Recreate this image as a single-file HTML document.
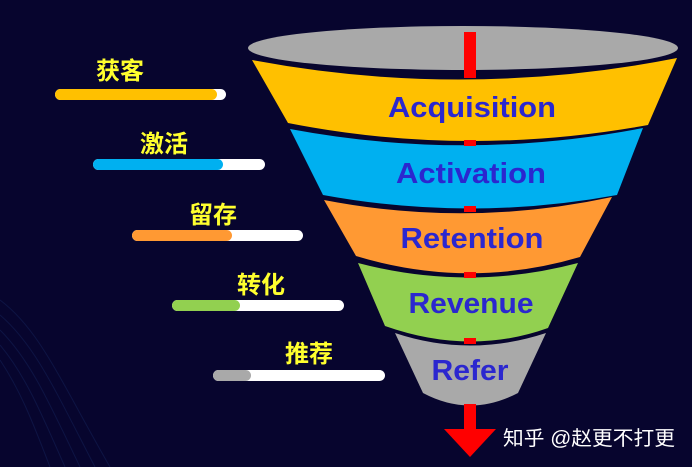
<!DOCTYPE html>
<html><head><meta charset="utf-8"><style>
html,body{margin:0;padding:0;background:#07052e;}
svg{display:block;}
.en{font-family:"Liberation Sans","DejaVu Sans",sans-serif;font-weight:bold;fill:#2b27cf;text-anchor:middle;}
.cn{font-family:"Liberation Sans","Noto Sans CJK SC",sans-serif;font-weight:bold;fill:#ffff2e;font-size:24px;}
</style></head><body>
<svg width="692" height="467" viewBox="0 0 692 467" xmlns="http://www.w3.org/2000/svg">
<rect width="692" height="467" fill="#07052e"/>
<g fill="none" stroke="#15245a" stroke-width="1" opacity="0.5">
<path d="M0 300 C40 330 60 380 110 467"/>
<path d="M0 315 C35 345 55 390 95 467"/>
<path d="M0 330 C30 360 48 400 80 467"/>
<path d="M0 345 C25 375 40 410 65 467"/>
<path d="M0 360 C20 390 32 420 50 467"/>
</g>
<ellipse cx="463" cy="48" rx="215" ry="22" fill="#a9a9a9"/>
<path d="M252 60 Q464 100 677 58 L648 125 Q466 158 288 123 Z" fill="#ffc000"/>
<path d="M290 129 Q466 162 643 128 L617 195 Q470 222 323 195 Z" fill="#00b0f0"/>
<path d="M324 200 Q468 228 612 197 L580 257 Q468 290 356 256 Z" fill="#ff9933"/>
<path d="M358 263 Q468 292 578 263 L548 328 Q470 356 385 326 Z" fill="#92d050"/>
<path d="M395 333 Q470 358 546 333 L518 393 Q470 418 423 393 Z" fill="#a9a9a9"/>
<rect x="464" y="32" width="12" height="46" fill="#ff0000"/>
<rect x="464" y="140" width="12" height="6" fill="#ff0000"/>
<rect x="464" y="206" width="12" height="6" fill="#ff0000"/>
<rect x="464" y="272" width="12" height="6" fill="#ff0000"/>
<rect x="464" y="338" width="12" height="6" fill="#ff0000"/>
<rect x="464" y="404" width="12" height="28" fill="#ff0000"/>
<polygon points="444,429 496,429 470,457" fill="#ff0000"/>
<text class="en" x="472" y="117" font-size="29" textLength="168" lengthAdjust="spacingAndGlyphs">Acquisition</text>
<text class="en" x="471" y="183" font-size="29" textLength="150" lengthAdjust="spacingAndGlyphs">Activation</text>
<text class="en" x="472" y="248" font-size="29" textLength="143" lengthAdjust="spacingAndGlyphs">Retention</text>
<text class="en" x="471" y="313" font-size="29" textLength="125" lengthAdjust="spacingAndGlyphs">Revenue</text>
<text class="en" x="470" y="380" font-size="29" textLength="77" lengthAdjust="spacingAndGlyphs">Refer</text>
<g>
<rect x="55" y="89" width="171" height="11" rx="5.5" fill="#fff"/>
<rect x="55" y="89" width="162" height="11" rx="5.5" fill="#ffc000"/>
<text class="cn" x="96" y="79">获客</text>
<rect x="93" y="159" width="172" height="11" rx="5.5" fill="#fff"/>
<rect x="93" y="159" width="130" height="11" rx="5.5" fill="#00b0f0"/>
<text class="cn" x="140" y="152">激活</text>
<rect x="132" y="230" width="171" height="11" rx="5.5" fill="#fff"/>
<rect x="132" y="230" width="100" height="11" rx="5.5" fill="#ff9933"/>
<text class="cn" x="189" y="223">留存</text>
<rect x="172" y="300" width="172" height="11" rx="5.5" fill="#fff"/>
<rect x="172" y="300" width="68" height="11" rx="5.5" fill="#92d050"/>
<text class="cn" x="237" y="293">转化</text>
<rect x="213" y="370" width="172" height="11" rx="5.5" fill="#fff"/>
<rect x="213" y="370" width="38" height="11" rx="5.5" fill="#a9a9a9"/>
<text class="cn" x="285" y="362">推荐</text>
</g>
<text x="503" y="445" font-size="20" fill="#fff" font-family="'Liberation Sans','Noto Sans CJK SC',sans-serif" textLength="172" lengthAdjust="spacingAndGlyphs">知乎 @赵更不打更</text>
</svg>
</body></html>
